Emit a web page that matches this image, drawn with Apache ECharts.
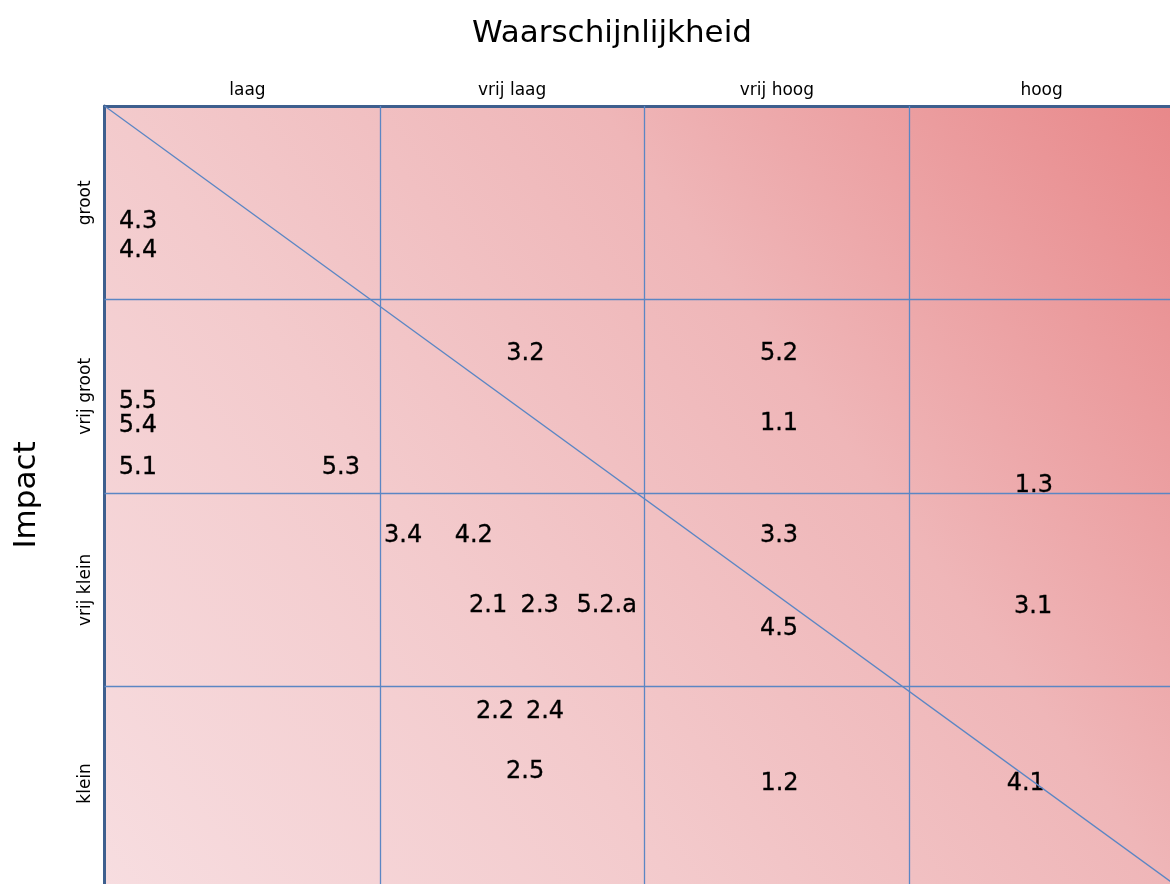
<!DOCTYPE html>
<html><head><meta charset="utf-8">
<script src="https://cdn.jsdelivr.net/npm/echarts@6/dist/echarts.min.js"></script>
<style>html,body{margin:0;padding:0;background:#fff}#c{width:1170px;height:884px}</style>
</head><body><div id="c"></div>
<script>
// ---- data ----
const chartTitle = 'Waarschijnlijkheid';
const yTitle = 'Impact';
const likelihoodLabels = ['laag', 'vrij laag', 'vrij hoog', 'hoog'];
const impactLabels = ['klein', 'vrij klein', 'vrij groot', 'groot'];
const labelSlots = [0.5, 1.5, 2.5, 3.5];
const gridBoundaries = [1, 2, 3];
const riskIds        = ['4.3', '4.4', '5.5', '5.4', '5.1', '5.3', '3.2', '5.2', '1.1', '1.3', '3.4', '4.2', '3.3', '2.1', '2.3', '5.2.a', '3.1', '4.5', '2.2', '2.4', '2.5', '1.2', '4.1'];
const riskLikelihood = [0.087, 0.087, 0.086, 0.086, 0.086, 0.853, 1.550, 2.508, 2.508, 3.471, 1.088, 1.355, 2.508, 1.409, 1.604, 1.857, 3.468, 2.508, 1.435, 1.624, 1.549, 2.510, 3.440];
const riskImpact     = [3.40, 3.25, 2.47, 2.35, 2.13, 2.13, 2.72, 2.72, 2.36, 2.04, 1.78, 1.78, 1.78, 1.42, 1.42, 1.42, 1.41, 1.30, 0.87, 0.87, 0.56, 0.50, 0.50];
const xMin = -0.04, xMax = 3.985, yMin = -0.02, yMax = 4;
const diagonal = [[xMin, yMax], [4, yMin]];

// ---- chart ----
const font = "'DejaVu Sans', Verdana, sans-serif";
const lineBlue = '#5b86c4';
const borderBlue = '#3e5f8e';
const chart = echarts.init(document.getElementById('c'), null, { renderer: 'canvas' });

const option = {
  animation: false,
  grid: {
    left: 104.5, top: 106, right: 0, bottom: 0, show: true, borderWidth: 0,
    backgroundColor: new echarts.graphic.LinearGradient(0, 1, 1, 0, [
      { offset: 0, color: '#f7dde0' },
      { offset: 0.35, color: '#f3cacc' },
      { offset: 0.65, color: '#efb6b8' },
      { offset: 1, color: '#e8888a' }
    ])
  },
  graphic: [{
    type: 'text', x: 612, y: 18, silent: true,
    style: { text: chartTitle, font: '31px ' + font, fill: '#000', align: 'center', verticalAlign: 'top' }
  }],
  xAxis: [
    { type: 'value', min: xMin, max: xMax, show: false },
    {
      type: 'value', position: 'top', min: xMin, max: xMax,
      axisLine: { show: true, onZero: false, lineStyle: { color: borderBlue, width: 3 } },
      axisTick: { show: false }, splitLine: { show: false },
      axisLabel: {
        customValues: labelSlots,
        formatter: v => likelihoodLabels[Math.floor(v)],
        fontSize: 17, fontFamily: font, color: '#000', margin: 7
      }
    }
  ],
  yAxis: [
    { type: 'value', min: yMin, max: yMax, show: false },
    {
      type: 'value', position: 'left', min: yMin, max: yMax,
      axisLine: { show: true, onZero: false, lineStyle: { color: borderBlue, width: 3 } },
      axisTick: { show: false }, splitLine: { show: false },
      axisLabel: {
        customValues: labelSlots,
        formatter: v => impactLabels[Math.floor(v)],
        rotate: 90, fontSize: 17, fontFamily: font, color: '#000', margin: 10
      },
      name: yTitle, nameLocation: 'middle', nameGap: 62, nameRotate: 90,
      nameTextStyle: { fontSize: 31, fontFamily: font, color: '#000' }
    }
  ],
  series: [
    {
      type: 'line', xAxisIndex: 0, yAxisIndex: 0, data: diagonal, symbol: 'none', silent: true, clip: true,
      lineStyle: { color: lineBlue, width: 1.3 },
      markLine: {
        silent: true, symbol: ['none', 'none'], label: { show: false },
        lineStyle: { color: lineBlue, width: 1.3, type: 'solid' },
        data: gridBoundaries.map(v => ({ xAxis: v })).concat(gridBoundaries.map(v => ({ yAxis: v })))
      }
    },
    {
      type: 'scatter', xAxisIndex: 0, yAxisIndex: 0, symbolSize: 1, silent: true,
      itemStyle: { color: 'rgba(0,0,0,0)', opacity: 1 },
      label: {
        show: true, position: 'inside', formatter: '{b}', fontSize: 24, fontFamily: font,
        color: '#000', textBorderColor: '#000', textBorderWidth: 0.3
      },
      data: riskIds.map((id, i) => ({ name: id, value: [riskLikelihood[i], riskImpact[i]] }))
    }
  ]
};
chart.setOption(option);
</script>
</body></html>
